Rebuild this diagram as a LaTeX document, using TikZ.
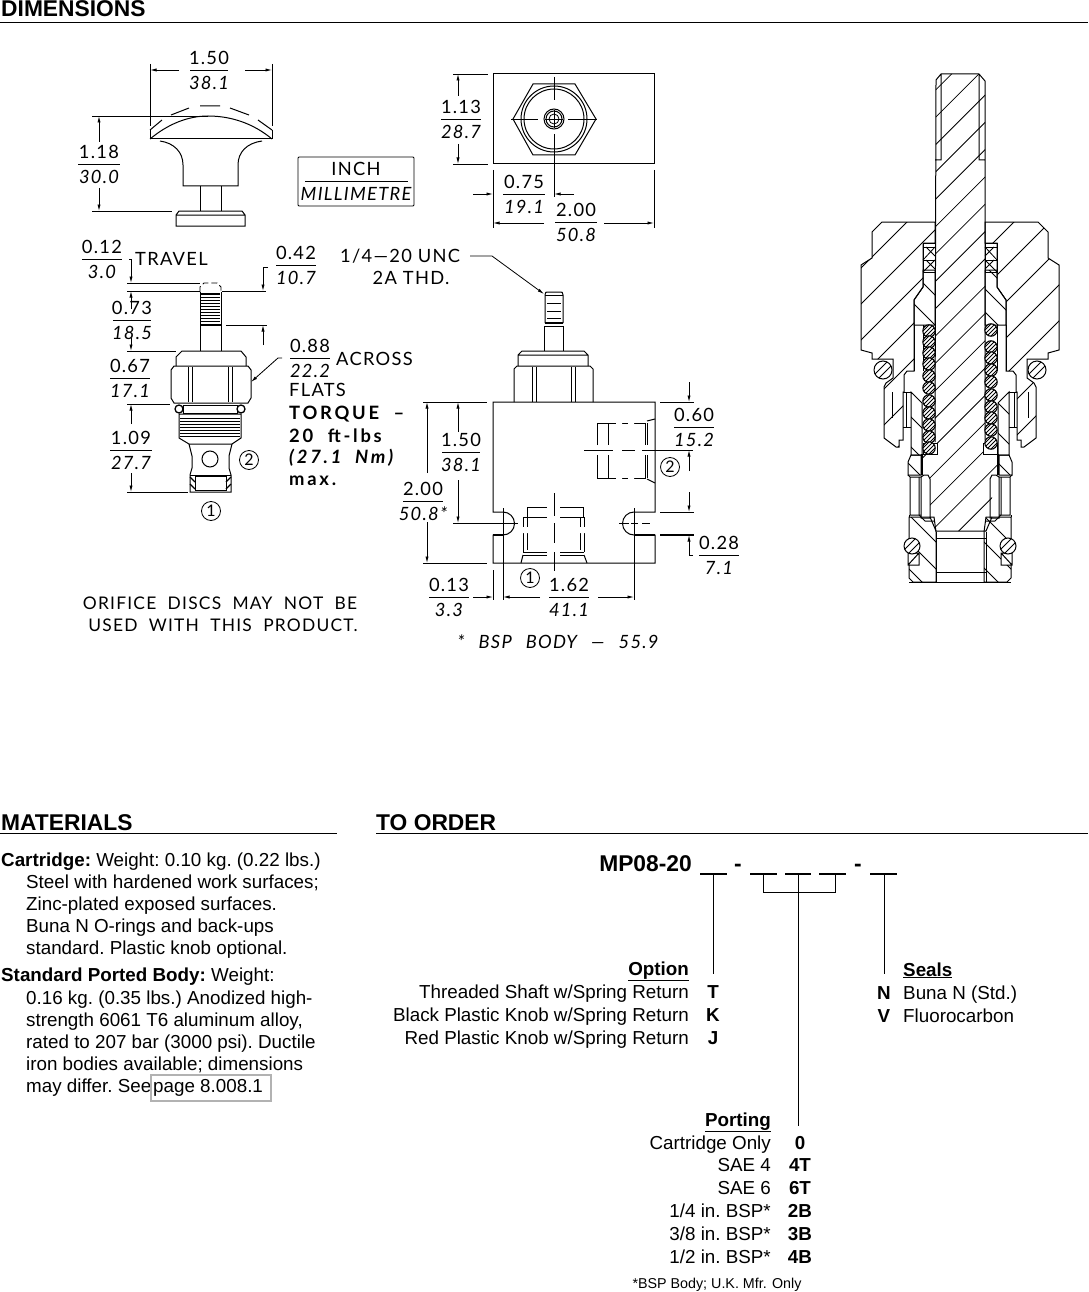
\documentclass[tikz,border=0pt]{standalone}
\usepackage{fontspec}
\usetikzlibrary{arrows.meta}
\setmainfont{Liberation Sans}
\newfontfamily\cad[LetterSpace=7,ItalicFont={Lato Italic}]{Lato}
\newfontfamily\cadb[LetterSpace=15,ItalicFont={Lato Bold Italic}]{Lato Bold}
\tikzset{
  dl/.style={line width=0.8pt},
  dimarr/.style={line width=0.8pt,-{Latex[length=6.5pt,width=3.2pt]}},
  obj/.style={line width=1pt,line join=miter},
  hl/.style={line width=0.8pt},
  cadtxt/.style={inner sep=0pt,font=\cad\fontsize{18.3}{20}\selectfont\frenchspacing},
  cadnote/.style={inner sep=0pt,font=\cad\fontsize{17.4}{20}\selectfont\frenchspacing},
  cadbold/.style={inner sep=0pt,anchor=west,font=\cadb\fontsize{18.4}{20}\selectfont\frenchspacing},
  cadnum/.style={inner sep=0pt,font=\cad\fontsize{16}{16}\selectfont},
  body/.style={inner sep=0pt,anchor=base west,font=\fontsize{18.8}{22}\selectfont\frenchspacing},
  bodyr/.style={inner sep=0pt,anchor=base east,font=\fontsize{18.8}{22}\selectfont\frenchspacing},
  code/.style={inner sep=0pt,anchor=base,font=\bfseries\fontsize{18.8}{22}\selectfont},
  head/.style={inner sep=0pt,anchor=base west,font=\bfseries\fontsize{22.8}{26}\selectfont},
  partno/.style={inner sep=0pt,font=\bfseries\fontsize{22.8}{26}\selectfont},
  rulel/.style={line width=0.8pt},
  blank/.style={line width=1.4pt},
}
\newcommand\frc[6]{% name, x, y, half width, top, bottom
  \node[cadtxt] (#1t) at (#2,#3-12.5) {#5};
  \node[cadtxt] (#1b) at (#2,#3+12.5) {\itshape #6};
  \draw[dl] (#2-#4,#3) -- (#2+#4,#3);}
\newcommand\hatchU[3]{\foreach \c in {#1,#2,...,#3} {\draw[hl] (850,{\c-850}) -- (1070,{\c-1070});}}
\newcommand\hatchD[3]{\foreach \c in {#1,#2,...,#3} {\draw[hl] (850,{850-\c}) -- (1070,{1070-\c});}}
\newcommand\coil[2]{%
  \fill[white] (#1,#2) circle (6.2);
  \begin{scope}\clip (#1,#2) circle (6.2);
    \foreach \k in {-10,-6,...,10} {\draw[line width=0.9pt] ({#1+\k-10},{#2+10}) -- ({#1+\k+10},{#2-10});}
  \end{scope}
  \draw[line width=1.1pt] (#1,#2) circle (6.2);}
\newcommand\screw[3]{%
  \fill[white] (#1,#2) circle (#3);
  \begin{scope}\clip (#1,#2) circle (#3);
    \foreach \k in {-4,4} {\draw[line width=0.9pt] ({#1+\k-12},{#2+12}) -- ({#1+\k+12},{#2-12});}
  \end{scope}
  \draw[line width=1pt] (#1,#2) circle (#3);}
\newcommand\nutL{(882,222) -- (935,222) -- (935,243) -- (923,243) -- (923,287) -- (914,300) -- (914,371) -- (907,371) -- (904,375) -- (904,392) -- (903,392) -- (903,440) -- (899,440) -- (899,447) -- (896,447) -- (884,438) -- (884,387) -- (886,383) -- (893,378) -- (893,359) -- (872,359) -- (872,353) -- (861,350) -- (861,265) -- (872,258) -- (872,232) -- cycle}
\newcommand\glandL{(923,270) -- (935,270) -- (935,325) -- (914,325) -- (914,300) -- (923,287) -- cycle}
\newcommand\sleeveL{(911,392) -- (922,403) -- (922,455) -- (911,455) -- cycle}
\newcommand\baseL{(909,517) -- (934,517) -- (936,532) -- (936,582) -- (913,582) -- (909,578) -- cycle}
\newcommand\collarL{(911,455) -- (908,462) -- (908,475) -- (921,475) -- (921,455) -- cycle}
\newcommand\sectionhalf{%
  \draw[obj] (923,243) rectangle (935,272);
  \draw[obj] (923,247) -- (935,247) (923,260) -- (935,260);
  \draw[hl] (923,260) -- (935,247) (926,247) -- (935,256) (923,272) -- (935,260) (926,260) -- (935,269);
  \draw[obj] (914,325) -- (914,371);
  \draw[obj] (923,325) -- (923,371);
  \draw[obj] (903,392) -- (911,392) (906,392) -- (906,427) -- (903,427) (903,427) -- (911,427);
  \draw[obj] (892,392) -- (892,418);
  \draw[obj] (921,477) -- (924,475) -- (928,475) -- (930,479) -- (930,518) -- (921,518) -- cycle;
  \draw[obj] (919,477) -- (919,515) -- (925,521) -- (934,521);
  \draw[obj] (910,477) -- (921,477) (908,475) -- (910,477) -- (910,515) -- (921,515);
  \draw[obj] (909,517) -- (909,515);
  \draw[obj] (923,443) rectangle (937,454);
  \draw[line width=1.6pt] (922,454) -- (922,475);
  \fill[white] (908,553) rectangle (919,565);
  \draw[obj] (908,553) rectangle (919,565) (908,565) -- (919,553);
}
\begin{document}
\begin{tikzpicture}[x=1pt,y=-1pt]
\fill[white] (0,0) rectangle (1088,1292);
\useasboundingbox (0,0) rectangle (1088,1292);
% headings
\node[head] (hdim) at (1,17) {DIMENSIONS};
\draw[rulel] (0,22) -- (1088,22);
\node[head] (hmat) at (1,830) {MATERIALS};
\draw[rulel] (0,833) -- (337,833);
\node[head] (hord) at (376,830) {TO ORDER};
\draw[rulel] (376,833) -- (1088,833);

% ---------- knob ----------
\draw[obj] (150,130) -- (150,139) -- (272,139) -- (272,130);
\draw[obj] (150,139) .. controls (168,124) and (188,116) .. (208,116) .. controls (232,116) and (254,124) .. (272,139);
\draw[obj] (150,130) -- (162,120) (171,115) -- (189,108) (200,106) -- (220,106) (230,108) -- (249,115) (258,120) -- (272,130);
\draw[obj] (160,141) .. controls (174,143) and (183,152) .. (183,165) -- (183,186) -- (238,186) -- (238,165) .. controls (238,152) and (247,143) .. (262,141);
\draw[obj] (200,186) -- (200,211) (221,186) -- (221,211);
\draw[obj] (176,215) -- (179,211) -- (242,211) -- (245,215) -- (245,226) -- (176,226) -- cycle (176,215) -- (245,215);
\draw[dl] (150,64) -- (150,126) (272,64) -- (272,126);
\draw[dimarr] (179,70) -- (150,70);
\draw[dimarr] (245,70) -- (272,70);
\frc{a}{209}{70}{19}{1.50}{38.1}
\draw[dl] (92,116) -- (208,116) (92,211) -- (172,211);
\draw[dimarr] (99,142) -- (99,116);
\draw[dimarr] (99,188) -- (99,211);
\frc{b}{99}{164}{21}{1.18}{30.0}
% legend box
\draw[dl,rounded corners=1pt] (298,157) rectangle (414,206);
\node[cadtxt] (inch) at (356,169) {INCH};
\draw[dl] (305,181) -- (408,181);
\node[cadtxt] (mm) at (356,194) {\itshape MILLIMETRE};

% ---------- top view ----------
\draw[obj] (493,74) rectangle (654,164);
\draw[obj] (513,119) -- (533,84) -- (575,84) -- (596,119) -- (575,155) -- (533,155) -- cycle;
\draw[obj] (554,119) circle (33) (554,119) circle (30);
\draw[obj] (554,119) circle (10) (554,119) circle (8);
\draw[dl] (554,119) circle (5);
\draw[dl] (511,119) -- (538,119) (545,119) -- (563,119) (568,119) -- (597,119);
\draw[dl] (554,77) -- (554,100) (554,110) -- (554,128) (554,134) -- (554,197);
\draw[dl] (453,74) -- (488,74) (453,164) -- (488,164);
\draw[dimarr] (458,96) -- (458,74);
\draw[dimarr] (458,144) -- (458,164);
\frc{c}{461}{119}{20}{1.13}{28.7}
\draw[dl] (493,170) -- (493,228) (654,170) -- (654,228);
\draw[dimarr] (473,194) -- (493,194);
\draw[dimarr] (574,194) -- (554,194);
\frc{d}{524}{194}{21}{0.75}{19.1}
\draw[dimarr] (544,223) -- (493,223);
\draw[dimarr] (604,223) -- (654,223);
\frc{e}{576}{222}{21}{2.00}{50.8}

% ---------- left valve ----------
\draw[obj] (200,292) -- (200,351) (221,292) -- (221,351);
\draw[dl,dash pattern=on 6pt off 3pt] (200,292) -- (200,287) -- (204,283) -- (217,283) -- (221,287) -- (221,292);
\draw[line width=1.8pt] (201,294) -- (220,294);
\foreach \y in {297,300,...,324} {\draw[hl] (201,\y) -- (220,\y);}
\draw[line width=1.4pt] (200,325) -- (221,325);
\draw[obj] (176,366) -- (176,357) -- (182,351) -- (241,351) -- (246,357) -- (246,366);
\draw[obj] (171,370) -- (174,366) -- (248,366) -- (251,370) -- (251,398) -- (248,403) -- (174,403) -- (171,398) -- cycle;
\draw[obj] (188,367) -- (188,402) (192,367) -- (192,402) (228,367) -- (228,402) (232,367) -- (232,402);
\draw[obj] (183,405) rectangle (237,413);
\draw[line width=1.3pt,fill=white] (179,409) circle (4) (241,409) circle (4);
\draw[obj] (179,414) -- (241,414) -- (241,438) -- (232,444) -- (189,444) -- (179,438) -- cycle;
\foreach \y in {418,421,...,437} {\draw[hl] (180,\y) -- (240,\y);}
\draw[obj] (189,444) -- (192,456) -- (192,468) -- (190,475) -- (190,492) -- (231,492) -- (231,475) -- (229,468) -- (229,456) -- (232,444);
\draw[obj] (210,459) circle (8);
\draw[obj] (190,475) -- (231,475) (195,476) rectangle (226,490);
\draw[line width=1.3pt] (190,477) -- (195,482) (190,484) -- (195,489) (226,482) -- (231,477) (226,489) -- (231,484);
\draw[dl] (127,283) -- (200,283) (127,291) -- (200,291) (127,351) -- (176,351) (127,404) -- (170,404) (127,492) -- (188,492);
\draw[dimarr] (129,259) -- (131,259) -- (131,283);
\draw[dimarr] (131,309) -- (131,291);
\draw[dimarr] (131,338) -- (131,351);
\draw[dimarr] (131,424) -- (131,404);
\draw[dimarr] (131,473) -- (131,492);
\frc{f}{102}{259}{20}{0.12}{3.0}
\node[cadtxt,anchor=west] (trav) at (135,259) {TRAVEL};
\frc{g}{296}{265}{20}{0.42}{10.7}
\draw[dl] (222,291) -- (266,291) (226,325) -- (267,325);
\draw[dimarr] (268,267) -- (263,267) -- (263,291);
\draw[dimarr] (263,345) -- (263,325);
\frc{h}{132}{320}{19}{0.73}{18.5}
\frc{i}{130}{378}{20}{0.67}{17.1}
\frc{j}{131}{450}{21}{1.09}{27.7}
\frc{k}{310}{358}{20}{0.88}{22.2}
\draw[dimarr] (282,358) -- (278,358) -- (251,382);
\node[cadtxt,anchor=west] (acr) at (336,359) {ACROSS};
\node[cadtxt,anchor=west] (fl) at (289,390) {FLATS};
\node[cadbold] (tq1) at (289,414) {TORQUE\ \ –};
\node[cadbold] (tq2) at (289,436) {20\ \ ft-lbs};
\node[cadbold] (tq3) at (289,458) {\itshape (27.1\ \ Nm)};
\node[cadbold] (tq4) at (289,481) {max.};
\draw[dl] (249,460) circle (9.5) (211,511) circle (9.5);
\node[cadnum] (lp2) at (249,460) {2};
\node[cadnum] (lp1) at (211,511) {1};
\node[cadnote] (or1) at (220,603) {ORIFICE\ \ DISCS\ \ MAY\ \ NOT\ \ BE};
\node[cadnote] (or2) at (223,625) {USED\ \ WITH\ \ THIS\ \ PRODUCT.};

% ---------- middle valve ----------
\draw[obj] (544,351) -- (544,326) -- (563,326) -- (563,351);
\draw[obj] (545,323) -- (545,295) .. controls (545,292) and (546,292) .. (548,292) -- (560,292) .. controls (562,292) and (563,292) .. (563,295) -- (563,323);
\draw[line width=1.5pt] (545,323) -- (563,323);
\draw[hl] (545,295) -- (563,295) (547,303) -- (561,303) (547,311) -- (561,311) (547,318) -- (561,318);
\draw[obj] (518,366) -- (518,355) -- (522,351) -- (584,351) -- (588,355) -- (588,366) (518,355) -- (588,355);
\draw[obj] (514,402) -- (514,369) -- (517,366) -- (590,366) -- (593,369) -- (593,402);
\draw[obj] (532,367) -- (532,402) (536,367) -- (536,402) (571,367) -- (571,402) (575,367) -- (575,402);
\node[cadtxt,anchor=west] (thd1) at (340,256) {1/4—20 UNC};
\node[cadtxt] (thd2) at (411,278) {2A THD.};
\draw[dimarr] (470,256) -- (492,256) -- (544,294);
% block
\draw[obj] (493,402) -- (493,512) -- (503,512) arc (-90:90:11.5) -- (493,535) -- (493,563) -- (655,563) -- (655,535) -- (634,535) arc (90:270:11.5) -- (655,512) -- (655,402) -- cycle;
\draw[line width=1.6pt] (493,535) -- (503,535) (634,535) -- (655,535);
% port 2
\draw[obj] (597,445) -- (597,423) -- (645,423) -- (645,445) (597,455) -- (597,478) -- (645,478) -- (645,455);
\draw[obj] (608,423) -- (608,445) (608,455) -- (608,478) (647,423) -- (647,445) (647,455) -- (647,478);
\draw[obj] (647,421) -- (655,419) (647,479) -- (655,483);
\fill[white] (616,420) rectangle (622,481) (628,420) rectangle (634,481);
\draw[dl] (584,450) -- (613,450) (622,450) -- (635,450) (642,450) -- (693,450);
% port 1
\draw[obj] (527,517) -- (527,507) -- (547,507) (560,507) -- (583,507) -- (583,517);
\draw[obj] (523,552) -- (523,517) -- (547,517) (560,517) -- (584,517) -- (584,552);
\draw[obj] (527,517) -- (527,550) (580,517) -- (580,550);
\draw[obj] (523,552) -- (547,552) (560,552) -- (584,552) (523,555) -- (547,555) (560,555) -- (584,555);
\draw[obj] (523,555) -- (521,563) (584,555) -- (587,563);
\fill[white] (520,527) rectangle (530,533) (578,527) rectangle (588,533);
\draw[dl] (554,493) -- (554,516) (554,523) -- (554,543) (554,552) -- (554,571);
% port centres and dimensions
\draw[dl] (503,508) -- (503,600) (634,508) -- (634,600) (493,570) -- (493,600);
\draw[dl] (423,402) -- (487,402) (423,563) -- (487,563);
\draw[dl] (453,523) -- (518,523) (619,523) -- (629,523) (631,523) -- (638,523) (642,523) -- (650,523);
\draw[dimarr] (427,473) -- (427,402);
\draw[dimarr] (427,522) -- (427,563);
\draw[dimarr] (458,432) -- (458,402);
\draw[dimarr] (458,480) -- (458,523);
\frc{l}{461}{452}{19}{1.50}{38.1}
\frc{m}{423}{501}{20}{2.00}{50.8*}
\draw[dl] (660,402) -- (694,402) (660,512) -- (694,512);
\draw[line width=1.6pt] (660,535) -- (694,535);
\draw[dimarr] (689,382) -- (689,402);
\draw[dimarr] (689,471) -- (689,450);
\draw[dimarr] (689,492) -- (689,512);
\draw[dimarr] (693,555) -- (689,555) -- (689,535);
\frc{n}{694}{427}{20}{0.60}{15.2}
\frc{o}{719}{555}{20}{0.28}{7.1}
\draw[dl] (670,467) circle (9.5) (530,578) circle (9.5);
\node[cadnum] (mp2) at (670,467) {2};
\node[cadnum] (mp1) at (530,578) {1};
\draw[dimarr] (473,597) -- (493,597);
\draw[dimarr] (540,597) -- (503,597);
\draw[dimarr] (598,597) -- (634,597);
\frc{p}{449}{597}{20}{0.13}{3.3}
\frc{q}{569}{597}{20}{1.62}{41.1}
\node[cadtxt] (bsp) at (558,642) {\itshape *\hspace{14pt}BSP\hspace{14pt}BODY\hspace{14pt}—\hspace{14pt}55.9};

% ---------- section view ----------
% nut
\begin{scope}\clip \nutL; \hatchU{1129}{1165}{1500} \end{scope}
\draw[obj] \nutL;
\begin{scope}\clip \glandL; \hatchD{520}{550}{760} \end{scope}
\draw[obj] \glandL;
\begin{scope}\clip \sleeveL; \hatchD{464}{494}{580} \end{scope}
\draw[obj] \sleeveL;
\begin{scope}\clip \collarL; \hatchD{420}{445}{500} \end{scope}
\draw[obj] \collarL;
\begin{scope}\clip \baseL; \hatchD{286}{313}{420} \end{scope}
\draw[obj] \baseL;
\begin{scope}[xscale=-1,xshift=-1920pt]
  \begin{scope}\clip \nutL; \hatchD{360}{396}{685} \end{scope}
  \draw[obj] \nutL;
  \draw[obj] \glandL;
  \draw[obj] \sleeveL;
  \draw[obj] \collarL;
  \draw[obj] \baseL;
\end{scope}
% right side hatching in the global sense
\begin{scope}\clip (997,270) -- (985,270) -- (985,325) -- (1006,325) -- (1006,300) -- (997,287) -- cycle; \hatchD{650}{673}{720} \end{scope}
\begin{scope}\clip (1009,392) -- (998,403) -- (998,455) -- (1009,455) -- cycle; \hatchD{535}{565}{625} \end{scope}
\begin{scope}\clip (1009,455) -- (1012,462) -- (1012,475) -- (999,475) -- (999,455) -- cycle; \hatchD{510}{535}{580} \end{scope}
\begin{scope}\clip (1011,517) -- (986,517) -- (984,532) -- (984,582) -- (1007,582) -- (1011,578) -- cycle; \hatchD{390}{416}{500} \end{scope}
% shaft
\begin{scope}
  \clip (936,80) -- (941,74) -- (979,74) -- (985,81) -- (985,440) -- (983,443) -- (983,454) -- (997,454) -- (997,475) -- (992,475) -- (992,517) -- (986,531) -- (936,531) -- (930,517) -- (930,475) -- (922,475) -- (922,454) -- (937,454) -- (937,443) -- (935,442) -- cycle;
  \hatchU{971}{998.3}{1600}
\end{scope}
\draw[obj] (936,80) -- (941,74) -- (979,74) -- (985,81) -- (985,440) (936,80) -- (935,442) (941,74) -- (941,160) -- (936,160) (979,74) -- (979,160) -- (985,160) (935,160) -- (941,160) (979,160) -- (985,160);
\draw[obj] (936,531) -- (986,531) -- (992,517) (936,531) -- (930,517);
\draw[obj] (936,538) -- (986,538) (936,572) -- (986,572) (936,532) -- (936,582) (986,532) -- (986,582);
\draw[obj] (909,582) -- (1011,582);
\sectionhalf
\begin{scope}[xscale=-1,xshift=-1920pt]\sectionhalf\end{scope}
% spring coils
\foreach \y in {331,342,353,364,376,388,401,413,425,437,448} {\coil{929}{\y}}
\foreach \y in {330,347,358,370,382,395,407,418,430,443} {\coil{991}{\y}}
% screws
\screw{883}{370}{9}
\screw{1037}{370}{9}
\screw{912}{546}{8}
\screw{1008}{546}{8}

% ---------- materials ----------
\node[body] at (1,866) (m1) {\textbf{Cartridge:} Weight: 0.10 kg. (0.22 lbs.)};
\node[body] at (26,888) (m2) {Steel with hardened work surfaces;};
\node[body] at (26,910) (m3) {Zinc-plated exposed surfaces.};
\node[body] at (26,932) (m4) {Buna N O-rings and back-ups};
\node[body] at (26,954) (m5) {standard. Plastic knob optional.};
\node[body] at (1,981) (m6) {\textbf{Standard Ported Body:} Weight:};
\node[body] at (26,1004) (m7) {0.16 kg. (0.35 lbs.) Anodized high-};
\node[body] at (26,1026) (m8) {strength 6061 T6 aluminum alloy,};
\node[body] at (26,1048) (m9) {rated to 207 bar (3000 psi). Ductile};
\node[body] at (26,1070) (m10) {iron bodies available; dimensions};
\node[body] at (26,1092) (m11) {may differ. See};
\node[body] at (153,1092) (m12) {page 8.008.1};
\draw[line width=1.2pt,color=black!30] (151,1075) rectangle (271,1101);

% ---------- to order ----------
\node[partno,anchor=base east] (pn) at (692,871) {MP08-20};
\node[partno,anchor=base] (d1) at (738,871) {-};
\node[partno,anchor=base] (d2) at (858,871) {-};
\coordinate (b1) at (713,874);
\coordinate (b2) at (763,874);
\coordinate (b3) at (798,874);
\coordinate (b4) at (835,874);
\coordinate (b5) at (884,874);
\coordinate (br) at (798,892);
\draw[blank] (700,874) -- (727,874) (750,874) -- (777,874) (785,874) -- (811,874) (819,874) -- (846,874) (870,874) -- (897,874);
\node[code] (cT) at (713,998) {T};
\node[code] (cK) at (713,1021) {K};
\node[code] (cJ) at (713,1044) {J};
\node[code] (cN) at (884,999) {N};
\node[code] (cV) at (884,1022) {V};
\node[code] (c0) at (800,1149) {0};
\node[code] (c4T) at (800,1171) {4T};
\node[code] (c6T) at (800,1194) {6T};
\node[code] (c2B) at (800,1217) {2B};
\node[code] (c3B) at (800,1240) {3B};
\node[code] (c4B) at (800,1263) {4B};
\coordinate (e1) at (713,974);
\coordinate (e5) at (884,974);
\coordinate (e3) at (798,1126);
\draw[dl] (b1) -- (e1);
\draw[dl] (b5) -- (e5);
\draw[dl] (b2) |- (br) -| (b4);
\draw[dl] (b3) -- (e3);
\node[bodyr] (o0) at (689,975) {\textbf{\underline{Option}}};
\node[bodyr] (o1) at (689,998) {Threaded Shaft w/Spring Return};
\node[bodyr] (o2) at (689,1021) {Black Plastic Knob w/Spring Return};
\node[bodyr] (o3) at (689,1044) {Red Plastic Knob w/Spring Return};
\node[body] (s0) at (903,976) {\textbf{\underline{Seals}}};
\node[body] (s1) at (903,999) {Buna N (Std.)};
\node[body] (s2) at (903,1022) {Fluorocarbon};
\node[bodyr] (p0) at (771,1126) {\textbf{\underline{Porting}}};
\node[bodyr] (p1) at (771,1149) {Cartridge Only};
\node[bodyr] (p2) at (771,1171) {SAE 4};
\node[bodyr] (p3) at (771,1194) {SAE 6};
\node[bodyr] (p4) at (771,1217) {1/4 in. BSP*};
\node[bodyr] (p5) at (771,1240) {3/8 in. BSP*};
\node[bodyr] (p6) at (771,1263) {1/2 in. BSP*};
\node[inner sep=0pt,anchor=base,font=\fontsize{14.3}{16}\selectfont] (fn) at (717,1288) {*BSP Body; U.K. Mfr. Only};
\end{tikzpicture}
\end{document}
